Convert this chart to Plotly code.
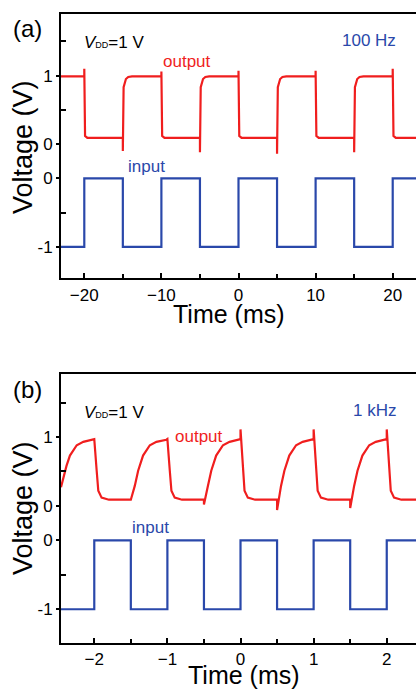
import plotly.graph_objects as go

# ---------------- data ----------------
# Panel (a): 100 Hz, time in ms
t_in_a = [-23.02, -20, -20, -15, -15, -10, -10, -5, -5, 0, 0, 5, 5, 10, 10, 15, 15, 20, 20, 23.02]
v_in_a = [-1, -1, 0, 0, -1, -1, 0, 0, -1, -1, 0, 0, -1, -1, 0, 0, -1, -1, 0, 0]

t_out_a = [-23.02, -20.0, -20.0, -19.9, -19.6,
           -15.0, -15.0, -14.9, -14.6, -14.3, -13.8,
           -10.0, -10.0, -9.9, -9.6,
           -5.0, -5.0, -4.9, -4.6, -4.3, -3.8,
           0.0, 0.0, 0.1, 0.4,
           5.0, 5.0, 5.1, 5.4, 5.7, 6.2,
           10.0, 10.0, 10.1, 10.4,
           15.0, 15.0, 15.1, 15.4, 15.7, 16.2,
           20.0, 20.0, 20.1, 20.4, 23.02]
v_out_a = [0.99, 0.99, 1.10, 0.12, 0.09,
           0.09, -0.10, 0.83, 0.95, 0.98, 0.99,
           0.99, 1.06, 0.12, 0.09,
           0.09, -0.12, 0.83, 0.95, 0.98, 0.99,
           0.99, 1.07, 0.12, 0.09,
           0.09, -0.14, 0.83, 0.95, 0.98, 0.99,
           0.99, 1.07, 0.12, 0.09,
           0.09, -0.12, 0.83, 0.95, 0.98, 0.99,
           0.99, 1.10, 0.12, 0.09, 0.09]

# Panel (b): 1 kHz, time in ms
t_in_b = [-2.455, -2, -2, -1.5, -1.5, -1, -1, -0.5, -0.5, 0, 0, 0.5, 0.5, 1, 1, 1.5, 1.5, 2, 2, 2.40]
v_in_b = [-1, -1, 0, 0, -1, -1, 0, 0, -1, -1, 0, 0, -1, -1, 0, 0, -1, -1, 0, 0]

t_out_b = [-2.455, -2.42, -2.38, -2.333, -2.24, -2.15, -2.014, -2.0, -1.967, -1.945, -1.9, -1.8,
           -1.5, -1.446, -1.4, -1.333, -1.24, -1.15, -1.014, -1.0, -0.967, -0.945, -0.9, -0.8,
           -0.5, -0.5, -0.446, -0.4, -0.333, -0.24, -0.15, -0.014, 0.0, 0.0, 0.033, 0.055, 0.1, 0.2,
           0.5, 0.5, 0.554, 0.6, 0.667, 0.76, 0.85, 0.986, 1.0, 1.0, 1.033, 1.055, 1.1, 1.2,
           1.5, 1.5, 1.554, 1.6, 1.667, 1.76, 1.85, 1.986, 2.0, 2.0, 2.033, 2.055, 2.1, 2.2, 2.40]
v_out_b = [0.27, 0.42, 0.58, 0.73, 0.88, 0.93, 0.96, 0.97, 0.51, 0.22, 0.12, 0.09,
           0.09, 0.29, 0.51, 0.73, 0.88, 0.93, 0.96, 0.97, 0.51, 0.22, 0.12, 0.09,
           0.09, 0.02, 0.29, 0.51, 0.73, 0.88, 0.93, 0.96, 0.97, 1.11, 0.51, 0.22, 0.12, 0.09,
           0.09, -0.06, 0.29, 0.51, 0.73, 0.88, 0.93, 0.96, 0.97, 1.11, 0.51, 0.22, 0.12, 0.09,
           0.09, -0.03, 0.29, 0.51, 0.73, 0.88, 0.93, 0.96, 0.97, 1.11, 0.51, 0.22, 0.12, 0.09, 0.09]

y_tickvals = [1.5, 0.5, 0, -1]
y_ticktext = ["1", "0", "0", "-1"]
y_minorvals = [2, 1, -0.5]
x_ticks_a = [-20, -10, 0, 10, 20]
x_minor_a = [-15, -5, 5, 15]
x_ticks_b = [-2, -1, 0, 1, 2]
x_minor_b = [-1.5, -0.5, 0.5, 1.5]

# ---------------- layout constants ----------------
W, H = 416, 690
ML, MR, MT, MB = 61, 0, 14, 47
PW, PH = W - ML - MR, H - MT - MB
OUT_OFFSET = 0.5
RED = "rgb(240,30,30)"
BLUE = "rgb(42,72,170)"
FONT = "Liberation Sans, Arial, sans-serif"


def px(x):
    return (x - ML) / PW


def py(y):
    return 1 - (y - MT) / PH


fig = go.Figure()
fig.add_trace(go.Scatter(x=t_out_a, y=[v + OUT_OFFSET for v in v_out_a], mode="lines",
                         line=dict(color=RED, width=2.2), xaxis="x", yaxis="y"))
fig.add_trace(go.Scatter(x=t_in_a, y=v_in_a, mode="lines",
                         line=dict(color=BLUE, width=2.2), xaxis="x", yaxis="y"))
fig.add_trace(go.Scatter(x=t_out_b, y=[v + OUT_OFFSET for v in v_out_b], mode="lines",
                         line=dict(color=RED, width=2.2), xaxis="x2", yaxis="y2"))
fig.add_trace(go.Scatter(x=t_in_b, y=v_in_b, mode="lines",
                         line=dict(color=BLUE, width=2.2), xaxis="x2", yaxis="y2"))

dom_a = [py(278.3), 1.0]
dom_b = [0.0, py(374.3)]

axis_common = dict(showline=True, linecolor="black", linewidth=2, showgrid=False,
                   zeroline=False, tickfont=dict(size=17, color="black", family=FONT),
                   tickcolor="black", tickwidth=1.5)

xa = dict(axis_common, ticks="inside", ticklen=5, mirror=True)
ya = dict(axis_common, ticks="outside", ticklen=3, tickvals=y_tickvals, ticktext=y_ticktext,
          minor=dict(ticks="inside", ticklen=5, tickvals=y_minorvals, tickcolor="black", tickwidth=1.5))

fig.update_layout(
    width=W, height=H, margin=dict(l=ML, r=MR, t=MT, b=MB),
    paper_bgcolor="white", plot_bgcolor="white", showlegend=False,
    font=dict(family=FONT, color="black"),
    xaxis=dict(xa, domain=[0, 1], range=[-23.02, 23.02], anchor="y", tickvals=x_ticks_a,
               minor=dict(ticks="inside", ticklen=4, tickvals=x_minor_a, tickcolor="black", tickwidth=1.5)),
    yaxis=dict(ya, domain=dom_a, range=[-1.46, 2.40], anchor="x"),
    xaxis2=dict(xa, domain=[0, 1], range=[-2.455, 2.40], anchor="y2", tickvals=x_ticks_b,
                minor=dict(ticks="inside", ticklen=4, tickvals=x_minor_b, tickcolor="black", tickwidth=1.5)),
    yaxis2=dict(ya, domain=dom_b, range=[-1.49, 2.41], anchor="x2"),
)


def ann(text, x, y, size, color="black", xanchor="center", yanchor="middle", angle=0):
    fig.add_annotation(text=text, x=px(x), y=py(y), xref="paper", yref="paper",
                       showarrow=False, xanchor=xanchor, yanchor=yanchor, textangle=angle,
                       font=dict(size=size, color=color, family=FONT))


vdd = "<i>V</i><span style='font-size:9px'>DD</span>=1 V"
# panel (a)
ann("(a)", 27, 28, 24)
ann(vdd, 82, 43, 17, xanchor="left")
ann("100 Hz", 398, 41, 17, BLUE, xanchor="right")
ann("output", 161, 62, 17, RED, xanchor="left")
ann("input", 126, 166, 17, BLUE, xanchor="left")
ann("Voltage (V)", 23, 147, 27, angle=-90)
ann("Time (ms)", 229, 314, 25)
# panel (b)
ann("(b)", 27, 389, 24)
ann(vdd, 82, 412, 17, xanchor="left")
ann("1 kHz", 398, 410, 17, BLUE, xanchor="right")
ann("output", 173, 436, 17, RED, xanchor="left")
ann("input", 130, 527, 17, BLUE, xanchor="left")
ann("Voltage (V)", 23, 508, 27, angle=-90)
ann("Time (ms)", 244, 675, 25)

fig.write_html("out.html", config={"displayModeBar": False},
               post_script="document.body.style.margin='0';document.body.style.overflow='hidden';")
